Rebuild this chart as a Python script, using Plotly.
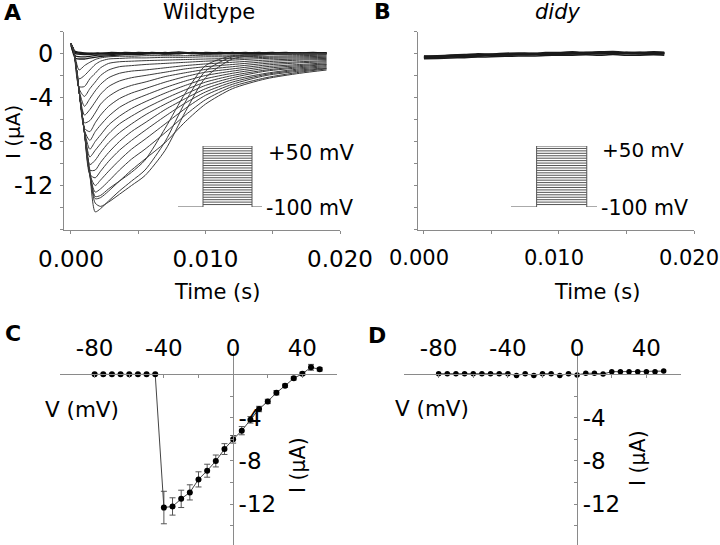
import plotly.graph_objects as go

W, H = 720, 545
FONT = "DejaVu Sans"

# ---------------- data ----------------
# Panel A: wildtype current traces (time in s, current in uA)
wt_t = [0, 0.0002, 0.0006, 0.0010, 0.0014, 0.0018, 0.0022, 0.0028, 0.0036, 0.0045,
        0.0055, 0.0070, 0.0085, 0.0100, 0.0120, 0.0145, 0.0170, 0.0190]
wt_threshold = [
    [0.9, 0.3, -3.4, -7.0, -10.6, -13.0, -12.9, -12.3, -11.6, -10.8, -9.7, -6.8, -3.6, -1.1, -0.2, -0.1, 0.0, 0.0],
    [0.9, 0.3, -3.4, -7.2, -11.0, -14.4, -14.1, -13.4, -12.5, -11.6, -10.6, -8.0, -4.4, -1.6, -0.3, -0.1, 0.0, 0.0],
    [0.9, 0.3, -3.4, -7.2, -11.0, -13.6, -13.9, -13.5, -12.8, -12.0, -11.1, -8.8, -5.3, -2.2, -0.5, -0.1, 0.0, 0.0],
]
wt_traces = [
    [0.9, 0.3, -3.4, -7.2, -11.0, -13.2, -13.1, -12.5, -11.6, -10.6, -9.6, -8.1, -6.2, -4.6, -3.2, -2.3, -1.8, -1.5],
    [0.9, 0.3, -3.4, -7.2, -11.0, -12.6, -12.3, -11.6, -10.6, -9.6, -8.7, -7.2, -5.6, -4.2, -3.0, -2.2, -1.7, -1.4],
    [0.9, 0.3, -3.4, -7.2, -11.0, -12.0, -11.5, -10.7, -9.7, -8.7, -7.8, -6.4, -5.0, -3.8, -2.8, -2.0, -1.6, -1.35],
    [0.9, 0.3, -3.4, -7.2, -11.0, -11.3, -10.7, -9.8, -8.8, -7.9, -7.0, -5.7, -4.5, -3.5, -2.6, -1.9, -1.5, -1.3],
    [0.9, 0.3, -3.4, -7.1, -10.6, -10.6, -9.9, -9.0, -8.0, -7.1, -6.3, -5.1, -4.1, -3.2, -2.4, -1.8, -1.4, -1.2],
    [0.9, 0.3, -3.4, -7.1, -10.1, -9.7, -9.0, -8.1, -7.2, -6.4, -5.6, -4.6, -3.7, -2.9, -2.2, -1.6, -1.3, -1.1],
    [0.9, 0.3, -3.4, -7.1, -9.4, -8.8, -8.2, -7.3, -6.4, -5.7, -5.0, -4.1, -3.3, -2.6, -2.0, -1.5, -1.2, -1.0],
    [0.9, 0.3, -3.4, -7.0, -8.7, -8.0, -7.4, -6.5, -5.7, -5.0, -4.4, -3.6, -2.9, -2.3, -1.8, -1.35, -1.1, -0.95],
    [0.9, 0.3, -3.4, -7.0, -7.9, -7.1, -6.5, -5.7, -4.9, -4.3, -3.8, -3.1, -2.5, -2.0, -1.6, -1.2, -1.0, -0.85],
    [0.9, 0.3, -3.4, -6.8, -7.1, -6.3, -5.6, -4.8, -4.1, -3.6, -3.2, -2.6, -2.1, -1.7, -1.4, -1.05, -0.85, -0.75],
    [0.9, 0.3, -3.4, -6.3, -6.1, -5.4, -4.6, -3.9, -3.3, -2.9, -2.6, -2.1, -1.75, -1.45, -1.2, -0.9, -0.75, -0.65],
    [0.9, 0.3, -3.4, -5.6, -5.1, -4.4, -3.7, -3.0, -2.5, -2.2, -2.0, -1.7, -1.4, -1.2, -1.0, -0.75, -0.6, -0.55],
    [0.9, 0.3, -3.3, -4.8, -4.1, -3.4, -2.8, -2.2, -1.8, -1.6, -1.5, -1.3, -1.1, -0.95, -0.8, -0.6, -0.5, -0.45],
    [0.9, 0.3, -3.2, -3.9, -3.2, -2.6, -2.0, -1.5, -1.2, -1.1, -1.0, -0.9, -0.8, -0.7, -0.6, -0.45, -0.4, -0.35],
    [0.9, 0.3, -3.0, -3.0, -2.3, -1.8, -1.3, -0.9, -0.75, -0.7, -0.65, -0.6, -0.55, -0.5, -0.45, -0.35, -0.3, -0.25],
    [0.9, 0.3, -2.3, -2.0, -1.5, -1.0, -0.7, -0.5, -0.45, -0.4, -0.4, -0.35, -0.35, -0.3, -0.3, -0.25, -0.2, -0.15],
    [0.9, 0.3, -1.5, -1.1, -0.8, -0.55, -0.4, -0.3, -0.25, -0.25, -0.2, -0.2, -0.2, -0.15, -0.15, -0.1, -0.1, -0.1],
]
flat_t = [0, 0.0003, 0.001, 0.002, 0.003, 0.004, 0.005, 0.006, 0.007, 0.008, 0.009,
          0.010, 0.011, 0.012, 0.013, 0.014, 0.015, 0.016, 0.017, 0.018, 0.019]
wt_flat = [
    [0.9, 0.2, 0.05, 0.0, 0.1, 0.05, 0.0, 0.1, 0.05, 0.15, 0.05, 0.0, 0.1, 0.05, 0.1, 0.0, 0.05, 0.1, 0.0, 0.05, 0.0],
    [0.8, 0.1, 0.0, 0.05, -0.05, 0.1, 0.05, 0.0, 0.1, 0.0, 0.1, 0.05, 0.0, 0.1, 0.0, 0.05, 0.1, 0.0, 0.05, 0.1, 0.05],
    [0.9, 0.0, -0.1, -0.05, 0.0, 0.0, 0.1, 0.05, 0.0, 0.05, 0.0, 0.1, 0.05, 0.0, 0.05, 0.1, 0.0, 0.05, 0.0, 0.0, 0.05],
    [0.7, -0.2, -0.3, -0.15, -0.1, 0.0, -0.05, 0.05, 0.0, 0.0, 0.05, 0.0, 0.0, 0.05, 0.0, 0.0, -0.05, 0.0, 0.05, 0.0, 0.0],
    [0.8, -0.4, -0.5, -0.3, -0.2, -0.1, -0.1, 0.0, -0.05, 0.0, 0.0, -0.05, 0.0, 0.0, 0.05, 0.0, 0.0, 0.05, 0.0, 0.0, 0.05],
]

# Panel B: didy traces
didy_t = [0, 0.001, 0.002, 0.003, 0.004, 0.005, 0.006, 0.007, 0.008, 0.009,
          0.010, 0.011, 0.012, 0.013, 0.014, 0.015, 0.016, 0.017, 0.0178]
didy_traces = [
    [-0.35, -0.30, -0.28, -0.22, -0.18, -0.15, -0.12, -0.10, -0.06, -0.05, -0.05, 0.00, 0.02, 0.00, 0.05, 0.00, 0.02, 0.00, 0.00],
    [-0.22, -0.20, -0.14, -0.10, -0.02, -0.05, 0.02, 0.05, 0.02, 0.08, 0.10, 0.15, 0.10, 0.15, 0.18, 0.12, 0.10, 0.15, 0.12],
    [-0.48, -0.45, -0.40, -0.38, -0.32, -0.30, -0.26, -0.22, -0.22, -0.18, -0.15, -0.15, -0.12, -0.15, -0.10, -0.15, -0.15, -0.12, -0.15],
    [-0.25, -0.25, -0.18, -0.15, -0.12, -0.08, -0.05, -0.05, -0.02, 0.00, 0.02, 0.05, 0.08, 0.05, 0.10, 0.05, 0.05, 0.08, 0.05],
    [-0.42, -0.36, -0.30, -0.30, -0.24, -0.16, -0.14, -0.12, -0.09, -0.09, -0.06, -0.04, -0.04, -0.02, -0.04, 0.01, -0.04, -0.06, -0.04],
    [-0.30, -0.33, -0.22, -0.14, -0.12, -0.14, -0.06, -0.02, 0.00, -0.04, 0.04, 0.06, 0.09, 0.12, 0.06, 0.06, 0.12, 0.06, 0.07],
    [-0.38, -0.28, -0.30, -0.20, -0.20, -0.10, -0.12, -0.04, -0.10, 0.00, -0.08, 0.02, -0.04, 0.08, 0.00, 0.10, 0.02, 0.04, 0.02],
]

# Voltage protocol inset (ms, mV)
prot_times = [0.0, 2.5, 7.4, 8.4]
prot_hold = -100
prot_levels = [-94, -88, -82, -76, -70, -64, -58, -52, -46, -40, -34, -28, -22, -16,
               -10, -4, 2, 8, 14, 20, 26, 32, 38, 44, 50]

# Panel C / D: I-V relations
iv_v = [-80, -75, -70, -65, -60, -55, -50, -45, -40, -35, -30, -25, -20, -15,
        -10, -5, 0, 5, 10, 15, 20, 25, 30, 35, 40, 45, 50]
wt_iv = [0, 0, 0, 0, 0, 0, 0, 0, -12.3, -12.2, -11.5, -10.9, -9.7, -8.9,
         -8.0, -6.9, -6.0, -5.2, -4.2, -3.2, -2.5, -1.7, -1.05, -0.37, 0.06, 0.65, 0.46]
wt_iv_err = [None, None, None, None, None, None, None, None, 1.5, 0.8, 0.8, 0.7, 0.7, 0.6,
             0.55, 0.5, 0.35, 0.38, 0.3, 0.25, 0.2, 0.2, 0.15, 0.15, 0.15, 0.27, 0.15]
didy_iv = [0.06, 0.06, 0.06, 0.06, 0.06, 0.06, 0.06, 0.06, 0.06, -0.1, 0.06, -0.1, 0.06, 0.06,
           -0.1, 0.06, -0.05, 0.1, 0.1, 0.03, 0.25, 0.25, 0.25, 0.25, 0.25, 0.25, 0.3]

# tick definitions
time_ticks = [0, 0.005, 0.010, 0.015, 0.020]
time_text = ["0.000", "", "0.010", "", "0.020"]
cur_ticks = [-16, -14, -12, -10, -8, -6, -4, -2, 0, 2]
cur_text_a = ["", "", "-12", "", "-8", "", "-4", "", "0", ""]
cur_text_c = ["", "", "-12", "", "-8", "", "-4", "", "", ""]
volt_ticks = [-100, -80, -60, -40, -20, 0, 20, 40, 60]
volt_text = ["", "-80", "", "-40", "", "0", "", "40", ""]


# ---------------- helpers ----------------
def xd(a, b):
    return [a / W, b / W]


def yd(top, bottom):
    return [1 - bottom / H, 1 - top / H]


TRACE_COL = "#3a3a3a"
AX_COL = "#8a8a8a"

fig = go.Figure()

for ys in wt_flat:
    fig.add_trace(go.Scatter(x=flat_t, y=ys, mode="lines", xaxis="x", yaxis="y",
                             line=dict(color="#1a1a1a", width=1.3, shape="spline", smoothing=0.5),
                             hoverinfo="skip"))
for ys in wt_traces + wt_threshold:
    fig.add_trace(go.Scatter(x=wt_t, y=ys, mode="lines", xaxis="x", yaxis="y",
                             line=dict(color=TRACE_COL, width=1, shape="spline", smoothing=0.7),
                             hoverinfo="skip"))
for ys in didy_traces:
    fig.add_trace(go.Scatter(x=didy_t, y=ys, mode="lines", xaxis="x2", yaxis="y2",
                             line=dict(color="#1a1a1a", width=1.5, shape="spline", smoothing=0.6),
                             hoverinfo="skip"))

# protocol insets
px_, py_ = [], []
px_ += [prot_times[0], prot_times[1], None]
py_ += [prot_hold, prot_hold, None]
px_ += [prot_times[2], prot_times[3], None]
py_ += [prot_hold, prot_hold, None]
for lv in prot_levels:
    px_ += [prot_times[1], prot_times[2], None]
    py_ += [lv, lv, None]
px_ += [prot_times[1], prot_times[1], None, prot_times[2], prot_times[2]]
py_ += [prot_hold, max(prot_levels), None, prot_hold, max(prot_levels)]
for xa, ya in (("x5", "y5"), ("x6", "y6")):
    fig.add_trace(go.Scatter(x=px_, y=py_, mode="lines", xaxis=xa, yaxis=ya,
                             line=dict(color="#555555", width=1), hoverinfo="skip"))

# IV curves
fig.add_trace(go.Scatter(x=iv_v, y=wt_iv, mode="lines+markers", xaxis="x3", yaxis="y3",
                         line=dict(color="#444444", width=1),
                         marker=dict(color="black", size=6),
                         error_y=dict(type="data", array=wt_iv_err, visible=True,
                                      color="#555555", thickness=1, width=3),
                         hoverinfo="skip"))
fig.add_trace(go.Scatter(x=iv_v, y=didy_iv, mode="lines+markers", xaxis="x4", yaxis="y4",
                         line=dict(color="#444444", width=1),
                         marker=dict(color="black", size=5.5),
                         hoverinfo="skip"))

base_ax = dict(showgrid=False, zeroline=False, showline=True, linecolor=AX_COL, linewidth=1,
               tickcolor=AX_COL, ticklen=3, tickwidth=1, fixedrange=True, automargin=False,
               ticklabeloverflow="allow")

yA = yd(31.5, 229.5)
fig.update_layout(
    width=W, height=H, margin=dict(l=0, r=0, t=0, b=0, pad=0, autoexpand=False),
    paper_bgcolor="white", plot_bgcolor="white", showlegend=False,
    font=dict(family=FONT, color="black"),
    xaxis=dict(base_ax, domain=xd(64, 340), range=[-0.00052, 0.020], anchor="y",
               ticks="outside", tickmode="array", tickvals=time_ticks, ticktext=time_text,
               tickfont=dict(family=FONT, size=23), ticklabelstandoff=6),
    yaxis=dict(base_ax, domain=yA, range=[-16, 2], anchor="x",
               ticks="outside", tickmode="array", tickvals=cur_ticks, ticktext=cur_text_a,
               tickfont=dict(family=FONT, size=24), ticklabelstandoff=2),
    xaxis2=dict(base_ax, domain=xd(418, 694), range=[-0.00044, 0.020], anchor="y2",
                ticks="outside", tickmode="array", tickvals=time_ticks, ticktext=time_text,
                tickfont=dict(family=FONT, size=21), ticklabelstandoff=6, ticklabelshift=-5),
    yaxis2=dict(base_ax, domain=yA, range=[-16, 2], anchor="x2",
                ticks="outside", tickmode="array", tickvals=cur_ticks, showticklabels=False),
    xaxis3=dict(base_ax, domain=xd(60, 337), range=[-100, 60], anchor="free",
                position=1 - 374.3 / H, side="top", ticks="inside",
                tickmode="array", tickvals=volt_ticks, ticktext=volt_text,
                tickfont=dict(family=FONT, size=23), ticklabelstandoff=9),
    yaxis3=dict(base_ax, domain=[0, 1 - 352.7 / H], range=[-15.76, 2], anchor="free",
                position=233 / W, side="right", ticks="inside",
                tickmode="array", tickvals=cur_ticks, ticktext=cur_text_c,
                tickfont=dict(family=FONT, size=23), ticklabelstandoff=0),
    xaxis4=dict(base_ax, domain=xd(404, 681), range=[-100, 60], anchor="free",
                position=1 - 374.3 / H, side="top", ticks="inside",
                tickmode="array", tickvals=volt_ticks, ticktext=volt_text,
                tickfont=dict(family=FONT, size=23), ticklabelstandoff=9),
    yaxis4=dict(base_ax, domain=[0, 1 - 352.7 / H], range=[-15.76, 2], anchor="free",
                position=577.1 / W, side="right", ticks="inside",
                tickmode="array", tickvals=cur_ticks, ticktext=cur_text_c,
                tickfont=dict(family=FONT, size=23), ticklabelstandoff=0),
    xaxis5=dict(domain=xd(178, 262), range=[prot_times[0], prot_times[3]], anchor="y5",
                visible=False, fixedrange=True),
    yaxis5=dict(domain=yd(146, 207), range=[prot_hold, max(prot_levels)], anchor="x5",
                visible=False, fixedrange=True),
    xaxis6=dict(domain=xd(511, 597), range=[prot_times[0], prot_times[3]], anchor="y6",
                visible=False, fixedrange=True),
    yaxis6=dict(domain=yd(146, 207), range=[prot_hold, max(prot_levels)], anchor="x6",
                visible=False, fixedrange=True),
)


def ann(text, x, y, size, **kw):
    d = dict(text=text, x=x / W, y=1 - y / H, xref="paper", yref="paper",
             showarrow=False, font=dict(family=FONT, size=size, color="black"),
             xanchor=kw.pop("xanchor", "center"), yanchor="middle")
    d.update(kw)
    fig.add_annotation(**d)


ann("<b>A</b>", 13, 12, 22)
ann("<b>B</b>", 382, 11, 22)
ann("<b>C</b>", 13, 333, 22)
ann("<b>D</b>", 377, 335, 22)
ann("Wildtype", 209, 12, 21)
ann("<i>didy</i>", 557, 12, 21)
ann("I (µA)", 13, 132, 20, textangle=-90)
ann("Time (s)", 217, 292, 21)
ann("Time (s)", 597, 292, 21)
ann("+50 mV", 266, 153, 21, xanchor="left")
ann("-100 mV", 264, 208, 20.5, xanchor="left")
ann("+50 mV", 600, 150, 20, xanchor="left")
ann("-100 mV", 599, 208, 20.5, xanchor="left")
ann("V (mV)", 82, 409, 21.5)
ann("V (mV)", 432, 408, 21.5)
ann("I (µA)", 298, 465, 20.5, textangle=-90)
ann("I (µA)", 638, 458, 20.5, textangle=-90)

fig.write_html("out.html")
